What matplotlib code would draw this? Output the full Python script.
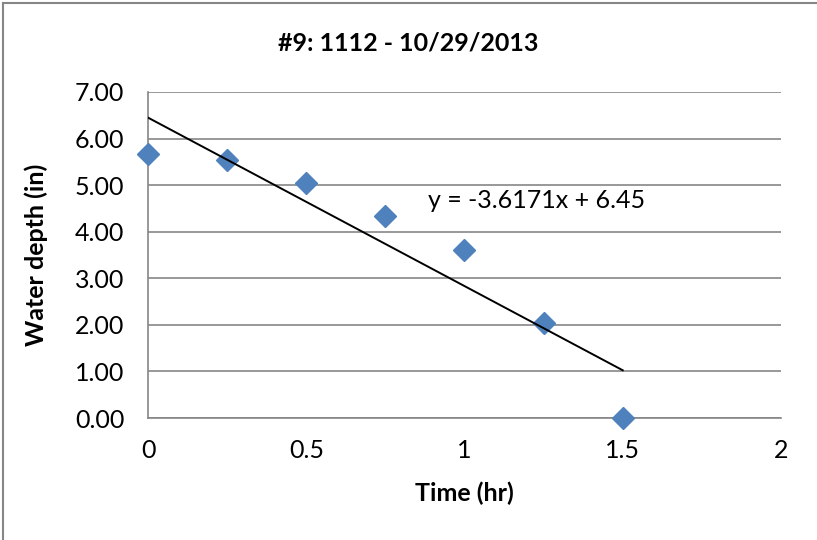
import matplotlib
matplotlib.use("Agg")
import matplotlib.pyplot as plt
from matplotlib.lines import Line2D

plt.rcParams['font.family'] = ['Lato', 'DejaVu Sans']

# Data
time_hr = [0, 0.25, 0.5, 0.75, 1.0, 1.25, 1.5]
depth_in = [5.66, 5.53, 5.04, 4.33, 3.60, 2.04, 0.0]
slope = -3.6171
intercept = 6.45
trend_x = [0, 1.5]
x_ticks = [0, 0.5, 1, 1.5, 2]
x_tick_labels = ["0", "0.5", "1", "1.5", "2"]
y_ticks = [0, 1, 2, 3, 4, 5, 6, 7]
y_tick_labels = [f"{v:.2f}" for v in y_ticks]
title = "#9: 1112 - 10/29/2013"

W, H = 817, 540
fig = plt.figure(figsize=(W / 100, H / 100), dpi=100)
ax = fig.add_axes([148 / W, (H - 418) / H, (781 - 148) / W, (418 - 92) / H])

grid_c = "#868686"
ax.set_xlim(0, 2)
ax.set_ylim(0, 7)
ax.set_yticks(y_ticks)
ax.set_yticklabels(y_tick_labels)
ax.set_xticks(x_ticks)
ax.set_xticklabels(x_tick_labels)
ax.yaxis.grid(True, color=grid_c, linewidth=1.2)
ax.set_axisbelow(True)
for s in ["top", "right"]:
    ax.spines[s].set_visible(False)
for s in ["left", "bottom"]:
    ax.spines[s].set_color(grid_c)
    ax.spines[s].set_linewidth(1.2)
ax.tick_params(axis="both", length=0, labelsize=18, colors="black")
ax.tick_params(axis="y", pad=17)
ax.tick_params(axis="x", pad=15)

ax.plot(time_hr, depth_in, linestyle="none", marker="D", markersize=11,
        color="#4F81BD", markeredgecolor="#4F81BD", zorder=3, clip_on=False)
trend_y = [slope * x + intercept for x in trend_x]
ax.plot(trend_x, trend_y, color="black", linewidth=1.4, zorder=4)

ax.text(0.886, 4.67, f"y = {slope}x + {intercept}", fontsize=18,
        ha="left", va="center")

ax.set_xlabel("Time (hr)", fontsize=18, fontweight="bold", labelpad=14)
ax.set_ylabel("Water depth (in)", fontsize=18, fontweight="bold", labelpad=19)
fig.text(0.5, 1 - 43 / H, title, fontsize=18, fontweight="bold",
         ha="center", va="center")

# Chart area border
fig.add_artist(Line2D([3.5 / W, 3.5 / W], [0, 1 - 2.5 / H], transform=fig.transFigure,
                      color="#868686", linewidth=1.5))
fig.add_artist(Line2D([3.5 / W, 1], [1 - 2.5 / H, 1 - 2.5 / H], transform=fig.transFigure,
                      color="#868686", linewidth=1.5))

fig.savefig("out.png", dpi=100)
